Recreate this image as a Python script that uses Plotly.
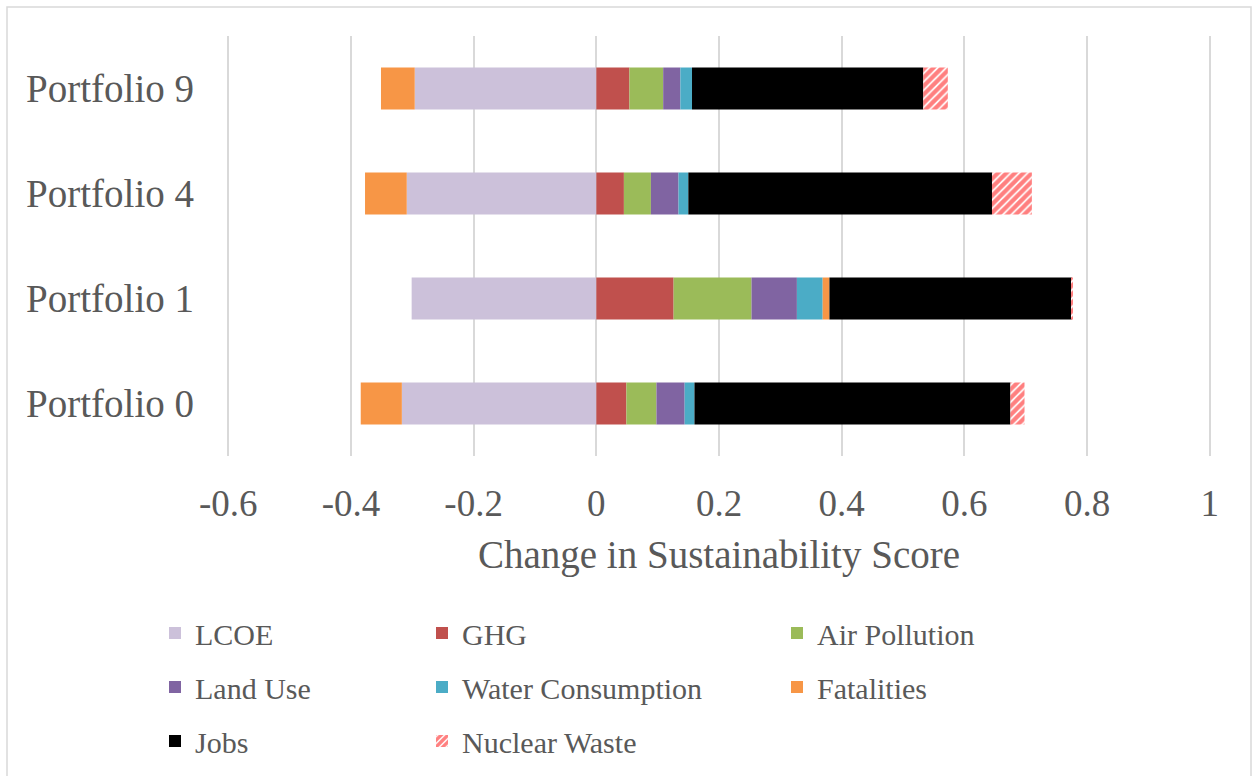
import plotly.graph_objects as go

# Portfolios, listed bottom to top as they appear on the category axis
portfolios = ["Portfolio 0", "Portfolio 1", "Portfolio 4", "Portfolio 9"]

# Per-criterion change in sustainability score for each portfolio
lcoe = [-0.317, -0.301, -0.309, -0.296]
ghg = [0.049, 0.126, 0.045, 0.054]
air_pollution = [0.049, 0.127, 0.044, 0.055]
land_use = [0.046, 0.074, 0.045, 0.028]
water_consumption = [0.016, 0.042, 0.016, 0.019]
fatalities = [-0.067, 0.011, -0.068, -0.055]
jobs = [0.515, 0.395, 0.495, 0.377]
nuclear_waste = [0.023, 0.002, 0.065, 0.040]

x_ticks = [-0.6, -0.4, -0.2, 0, 0.2, 0.4, 0.6, 0.8, 1]
x_tick_text = ["-0.6", "-0.4", "-0.2", "0", "0.2", "0.4", "0.6", "0.8", "1"]

W, H = 1257, 776
M_L, M_R, M_T, M_B = 227, 46, 36, 320
PW, PH = W - M_L - M_R, H - M_T - M_B


def px_x(p):
    return (p - M_L) / PW


def px_y(p):
    return 1 - (p - M_T) / PH


FONT = "Liberation Serif"
GREY = "#595959"

series = [
    ("LCOE", lcoe, "#ccc1da", None, "legend"),
    ("GHG", ghg, "#c0504d", None, "legend2"),
    ("Air Pollution", air_pollution, "#9bbb59", None, "legend3"),
    ("Land Use", land_use, "#8064a2", None, "legend"),
    ("Water Consumption", water_consumption, "#4bacc6", None, "legend2"),
    ("Fatalities", fatalities, "#f79646", None, "legend3"),
    ("Jobs", jobs, "#000000", None, "legend"),
    ("Nuclear Waste", nuclear_waste, "#ffffff", "/", "legend2"),
]

fig = go.Figure()
for name, vals, color, pattern, leg in series:
    marker = dict(color=color, line=dict(width=0))
    if pattern:
        marker["pattern"] = dict(shape=pattern, fgcolor="#ff0000", bgcolor="#ffffff",
                                 size=6, solidity=0.7)
    fig.add_trace(go.Bar(
        name=name, y=portfolios, x=vals, orientation="h",
        marker=marker, legend=leg, legendgroup=name,
    ))

legend_common = dict(
    orientation="v", traceorder="grouped", tracegroupgap=12,
    font=dict(family=FONT, size=30, color=GREY),
    bgcolor="rgba(0,0,0,0)", borderwidth=0,
    xanchor="left", yanchor="top",
)

fig.update_layout(
    width=W, height=H,
    margin=dict(l=M_L, r=M_R, t=M_T, b=M_B, autoexpand=False),
    paper_bgcolor="white", plot_bgcolor="white",
    barmode="relative", bargap=0.6,
    font=dict(family=FONT, color=GREY),
    xaxis=dict(
        range=[-0.602, 1.002], tickvals=x_ticks, ticktext=x_tick_text,
        showgrid=True, gridcolor="#d9d9d9", gridwidth=1.5,
        zeroline=False, showline=False, ticks="",
        tickfont=dict(family=FONT, size=37, color=GREY),
        ticklabelstandoff=22,
        title=dict(text="Change in Sustainability Score",
                   font=dict(family=FONT, size=39, color=GREY), standoff=17),
    ),
    yaxis=dict(
        showgrid=False, zeroline=False, showline=False, ticks="",
        tickfont=dict(family=FONT, size=39, color=GREY),
        ticklabelstandoff=32,
    ),
    legend=dict(legend_common, x=px_x(155), y=px_y(607)),
    legend2=dict(legend_common, x=px_x(422), y=px_y(607)),
    legend3=dict(legend_common, x=px_x(777), y=px_y(607)),
    shapes=[dict(
        type="rect", xref="paper", yref="paper",
        x0=px_x(7), x1=px_x(1251), y0=px_y(790), y1=px_y(7),
        line=dict(color="#d9d9d9", width=1.5), fillcolor="rgba(0,0,0,0)",
        layer="below",
    )],
)

fig.write_html("out.html")
